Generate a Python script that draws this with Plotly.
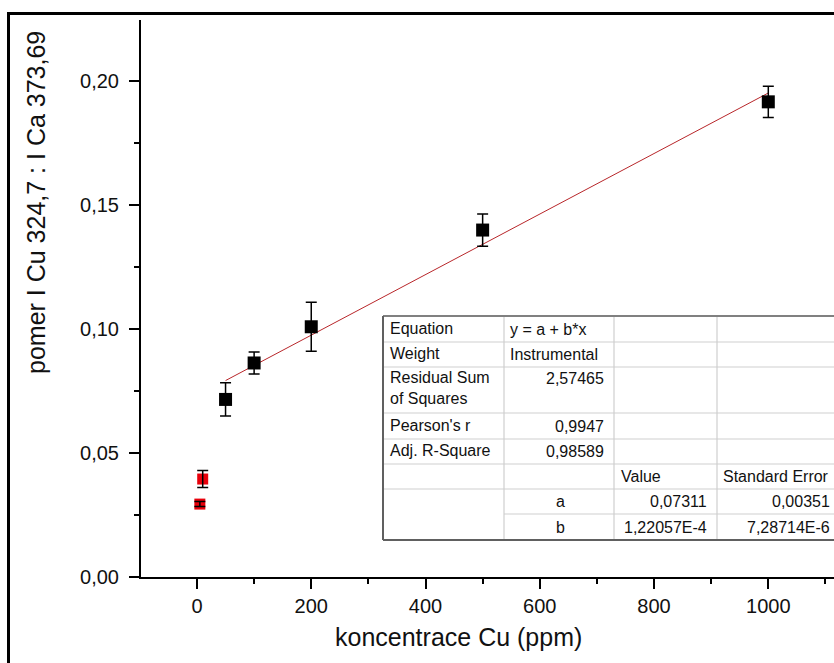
import plotly.graph_objects as go

# ---------------- data ----------------
conc = [50, 100, 200, 500, 1000]
ratio = [0.0716, 0.0863, 0.1009, 0.1399, 0.1916]
ratio_err = [0.0067, 0.0044, 0.0099, 0.0065, 0.0063]

conc_red = [5, 10]
ratio_red = [0.0294, 0.0395]
ratio_red_err = [0.0010, 0.0034]

fit_a = 0.07311
fit_b = 1.22057e-4
fit_x = [50, 1000]
fit_y = [fit_a + fit_b * x for x in fit_x]

x_title = "koncentrace Cu (ppm)"
y_title = "pomer I Cu 324,7 : I Ca 373,69"

table_rows = [
    ["Equation", "y = a + b*x", "", ""],
    ["Weight", "Instrumental", "", ""],
    ["Residual Sum<br>of Squares", "2,57465", "", ""],
    ["Pearson's r", "0,9947", "", ""],
    ["Adj. R-Square", "0,98589", "", ""],
    ["", "", "Value", "Standard Error"],
    ["", "a", "0,07311", "0,00351"],
    ["", "b", "1,22057E-4", "7,28714E-6"],
]

# ---------------- layout geometry (pixels) ----------------
W, H = 834, 663
L, R, T, B = 141, 834, 20, 577   # plot area edges in px
FONT = "Liberation Sans, Arial, sans-serif"


def px(X):
    return (X - L) / (R - L)


def py(Y):
    return (B - Y) / (B - T)


fig = go.Figure()

fig.add_trace(go.Scatter(
    x=fit_x, y=fit_y, mode="lines",
    line=dict(color="#b8262a", width=1),
    hoverinfo="skip", showlegend=False,
))

fig.add_trace(go.Scatter(
    x=conc_red, y=ratio_red, mode="markers",
    marker=dict(symbol="square", size=11, color="#e8000b", line=dict(width=0)),
    showlegend=False,
))
# red error bars drawn above the red markers (as in the original)
fig.add_trace(go.Scatter(
    x=conc_red, y=ratio_red, mode="markers",
    marker=dict(symbol="square", size=11, color="rgba(0,0,0,0)", line=dict(width=0)),
    error_y=dict(type="data", array=ratio_red_err, color="black", thickness=1.5, width=5.5),
    hoverinfo="skip", showlegend=False,
))

fig.add_trace(go.Scatter(
    x=conc, y=ratio, mode="markers",
    marker=dict(symbol="square", size=13, color="black", line=dict(width=0)),
    error_y=dict(type="data", array=ratio_err, color="black", thickness=1.5, width=5.5),
    showlegend=False,
))

shapes = []
annotations = []

# outer black frame
shapes.append(dict(type="rect", xref="paper", yref="paper",
                   x0=px(8.5), y0=py(13.5), x1=px(900), y1=py(720),
                   line=dict(color="black", width=3), fillcolor="rgba(0,0,0,0)", layer="above"))

# ---------------- fit table ----------------
tx0, tx1 = 383, 900
row_lines = [316, 342, 367, 413, 439, 464, 489, 514, 540]
col_lines = [504, 614, 717]

shapes.append(dict(type="rect", xref="paper", yref="paper",
                   x0=px(tx0), y0=py(row_lines[0]), x1=px(tx1), y1=py(row_lines[-1]),
                   line=dict(width=0), fillcolor="white", layer="above"))
for i, yl in enumerate(row_lines[1:-1], start=1):
    xstart = col_lines[0] if i == 7 else tx0
    shapes.append(dict(type="line", xref="paper", yref="paper",
                       x0=px(xstart), x1=px(tx1), y0=py(yl), y1=py(yl),
                       line=dict(color="#cfcfcf", width=1.2), layer="above"))
for xl in col_lines:
    shapes.append(dict(type="line", xref="paper", yref="paper",
                       x0=px(xl), x1=px(xl), y0=py(row_lines[0]), y1=py(row_lines[-1]),
                       line=dict(color="#cfcfcf", width=1.2), layer="above"))
# darker outer border
shapes.append(dict(type="line", xref="paper", yref="paper",
                   x0=px(tx0), x1=px(tx1), y0=py(row_lines[0]), y1=py(row_lines[0]),
                   line=dict(color="#808080", width=2), layer="above"))
shapes.append(dict(type="line", xref="paper", yref="paper",
                   x0=px(tx0), x1=px(tx1), y0=py(row_lines[-1]), y1=py(row_lines[-1]),
                   line=dict(color="#606060", width=2), layer="above"))
shapes.append(dict(type="line", xref="paper", yref="paper",
                   x0=px(tx0), x1=px(tx0), y0=py(row_lines[0]), y1=py(row_lines[-1]),
                   line=dict(color="#606060", width=2), layer="above"))

text_y = [329, 354, 378, 426, 451, 476, 501, 527]
tfont = dict(family=FONT, size=16, color="#111111")
for r, row in enumerate(table_rows):
    yc = text_y[r]
    c0, c1, c2, c3 = row
    if c0:
        annotations.append(dict(text=c0, x=px(388), y=py(yc - 11), xanchor="left", yanchor="top",
                                xref="paper", yref="paper", showarrow=False, font=tfont, align="left"))
    if c1:
        if r < 2:
            annotations.append(dict(text=c1, x=px(508), y=py(yc), xanchor="left", yanchor="middle",
                                    xref="paper", yref="paper", showarrow=False, font=tfont))
        elif r >= 6:
            annotations.append(dict(text=c1, x=px(560), y=py(yc), xanchor="center", yanchor="middle",
                                    xref="paper", yref="paper", showarrow=False, font=tfont))
        else:
            annotations.append(dict(text=c1, x=px(606), y=py(yc), xanchor="right", yanchor="middle",
                                    xref="paper", yref="paper", showarrow=False, font=tfont))
    if c2:
        if r == 5:
            annotations.append(dict(text=c2, x=px(619), y=py(yc), xanchor="left", yanchor="middle",
                                    xref="paper", yref="paper", showarrow=False, font=tfont))
        else:
            annotations.append(dict(text=c2, x=px(709), y=py(yc), xanchor="right", yanchor="middle",
                                    xref="paper", yref="paper", showarrow=False, font=tfont))
    if c3:
        if r == 5:
            annotations.append(dict(text=c3, x=px(721), y=py(yc), xanchor="left", yanchor="middle",
                                    xref="paper", yref="paper", showarrow=False, font=tfont))
        else:
            annotations.append(dict(text=c3, x=px(832), y=py(yc), xanchor="right", yanchor="middle",
                                    xref="paper", yref="paper", showarrow=False, font=tfont))

# axis titles
annotations.append(dict(text=y_title, x=px(36), y=py(203), xref="paper", yref="paper",
                        textangle=-90, xanchor="center", yanchor="middle", showarrow=False,
                        font=dict(family=FONT, size=25, color="#111111")))
annotations.append(dict(text=x_title, x=px(458), y=py(637), xref="paper", yref="paper",
                        xanchor="center", yanchor="middle", showarrow=False,
                        font=dict(family=FONT, size=25, color="#111111")))

axis_common = dict(
    showline=True, linecolor="black", linewidth=2, mirror=False,
    ticks="outside", ticklen=10, tickwidth=1.5, tickcolor="black",
    showgrid=False, zeroline=False,
    tickfont=dict(family=FONT, size=20, color="#111111"),
)

fig.update_layout(
    width=W, height=H,
    margin=dict(l=L, r=W - R, t=T, b=H - B, pad=0),
    paper_bgcolor="white", plot_bgcolor="white",
    separators=", ",
    showlegend=False,
    xaxis=dict(range=[-98, 1115], tick0=0, dtick=200, tickformat="d",
               minor=dict(dtick=100, tick0=0, ticks="outside", ticklen=5, tickwidth=1.5, tickcolor="black"),
               ticklabelstandoff=0, **axis_common),
    yaxis=dict(range=[0, 0.2246], tick0=0, dtick=0.05, tickformat=".2f",
               minor=dict(dtick=0.025, tick0=0, ticks="outside", ticklen=5, tickwidth=1.5, tickcolor="black"),
               ticklabelstandoff=6, **axis_common),
    shapes=shapes,
    annotations=annotations,
)

fig.write_html("out.html")
